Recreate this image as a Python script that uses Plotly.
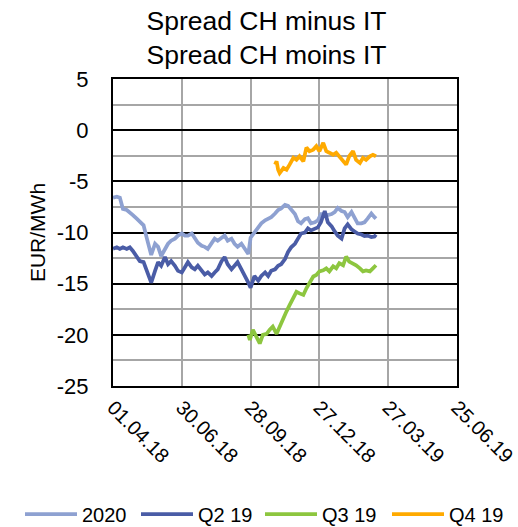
import plotly.graph_objects as go

# ---- data ----
blue_dates = [
    "2018-04-01", "2018-04-06", "2018-04-10", "2018-04-14", "2018-04-19", "2018-04-23",
    "2018-04-27", "2018-05-02", "2018-05-06", "2018-05-11", "2018-05-15", "2018-05-19",
    "2018-05-21", "2018-05-26", "2018-05-30", "2018-06-03", "2018-06-08", "2018-06-12",
    "2018-06-16", "2018-06-21", "2018-06-25", "2018-06-30", "2018-07-04", "2018-07-08",
    "2018-07-13", "2018-07-17", "2018-07-21", "2018-07-26", "2018-07-30", "2018-08-03",
    "2018-08-08", "2018-08-12", "2018-08-16", "2018-08-21", "2018-08-25", "2018-08-29",
    "2018-09-03", "2018-09-07", "2018-09-11", "2018-09-16", "2018-09-20", "2018-09-25",
    "2018-09-28", "2018-10-03", "2018-10-08", "2018-10-12", "2018-10-17", "2018-10-21",
    "2018-10-25", "2018-10-30", "2018-11-03", "2018-11-07", "2018-11-12", "2018-11-16",
    "2018-11-20", "2018-11-25", "2018-11-29", "2018-12-03", "2018-12-08", "2018-12-12",
    "2018-12-16", "2018-12-21", "2018-12-25", "2018-12-29", "2019-01-03", "2019-01-07",
    "2019-01-12", "2019-01-16", "2019-01-20", "2019-01-25", "2019-01-29", "2019-02-02",
    "2019-02-07", "2019-02-11", "2019-02-15", "2019-02-20", "2019-02-24", "2019-02-28",
    "2019-03-05", "2019-03-09", "2019-03-11",
]
values_2020 = [
    -6.6, -6.5, -6.6, -7.7, -7.8, -8.0,
    -8.3, -8.65, -9.0, -9.3, -10.5, -11.5,
    -12.2, -11.1, -11.4, -12.3, -11.6, -11.1,
    -10.8, -10.6, -10.3, -10.1, -10.3, -10.3,
    -10.1, -10.6, -11.0, -11.3, -11.4, -11.6,
    -11.0, -10.6, -10.8, -10.5, -10.3, -10.8,
    -10.6, -11.1, -11.4, -11.1, -11.6, -12.1,
    -10.5, -10.0, -9.6, -9.1, -8.8, -8.65,
    -8.5, -8.15, -7.8, -7.65, -7.3, -7.4,
    -7.7, -8.2, -8.9, -9.1, -8.7, -8.6,
    -9.1, -9.0, -8.8, -8.2, -8.2, -8.3,
    -8.2, -8.0, -7.6, -7.9, -8.0, -8.5,
    -8.0, -8.65, -9.1, -9.1, -9.0, -8.65,
    -8.15, -8.5, -8.65,
]
values_q2_19 = [
    -11.6, -11.45, -11.6, -11.45, -11.6, -11.45,
    -11.8, -12.3, -12.8, -12.9, -13.75, -14.4,
    -14.9, -13.75, -12.9, -13.25, -12.4, -13.1,
    -12.8, -13.25, -13.75, -13.9, -13.4, -12.9,
    -13.4, -13.6, -13.25, -13.75, -14.1, -13.9,
    -14.25, -13.9, -13.6, -12.8, -12.4, -13.1,
    -13.6, -13.25, -12.9, -13.6, -14.1, -14.9,
    -15.4, -14.25, -14.7, -14.25, -13.9, -14.25,
    -13.75, -13.6, -13.25, -13.1, -12.6, -11.9,
    -11.45, -11.1, -10.6, -10.1, -10.0, -9.6,
    -9.8, -9.6, -9.5, -9.0, -7.9, -9.0,
    -9.4, -9.9, -10.3, -10.6, -9.6, -9.2,
    -9.7, -9.9, -10.1, -10.2, -10.35, -10.3,
    -10.45, -10.4, -10.2,
]

q3_dates = [
    "2018-09-25", "2018-09-27", "2018-10-01", "2018-10-06", "2018-10-10", "2018-10-14",
    "2018-10-19", "2018-10-23", "2018-10-27", "2018-11-01", "2018-11-05", "2018-11-10",
    "2018-11-14", "2018-11-18", "2018-11-23", "2018-11-27", "2018-12-01", "2018-12-06",
    "2018-12-10", "2018-12-14", "2018-12-19", "2018-12-23", "2018-12-27", "2019-01-01",
    "2019-01-05", "2019-01-09", "2019-01-14", "2019-01-18", "2019-01-22", "2019-01-27",
    "2019-01-31", "2019-02-04", "2019-02-09", "2019-02-13", "2019-02-18", "2019-02-22",
    "2019-02-26", "2019-03-03", "2019-03-07", "2019-03-11",
]
values_q3_19 = [
    -20.0, -20.5, -19.5, -20.2, -20.85, -20.0,
    -19.9, -19.5, -19.2, -19.9, -19.2, -18.2,
    -17.7, -17.1, -16.3, -15.8, -15.95, -16.1,
    -15.45, -15.0, -14.3, -14.15, -13.8, -13.7,
    -13.5, -13.8, -13.3, -13.5, -13.0, -13.2,
    -12.35, -12.85, -13.0, -13.2, -13.5, -13.8,
    -13.7, -13.8, -13.5, -13.2,
]

q4_dates = [
    "2018-10-30", "2018-11-01", "2018-11-03", "2018-11-05", "2018-11-10", "2018-11-14",
    "2018-11-18", "2018-11-23", "2018-11-27", "2018-12-01", "2018-12-06", "2018-12-10",
    "2018-12-14", "2018-12-19", "2018-12-23", "2018-12-27", "2019-01-01", "2019-01-05",
    "2019-01-09", "2019-01-14", "2019-01-18", "2019-01-22", "2019-01-27", "2019-01-31",
    "2019-02-04", "2019-02-09", "2019-02-13", "2019-02-18", "2019-02-22", "2019-02-26",
    "2019-03-03", "2019-03-07", "2019-03-11",
]
values_q4_19 = [
    -3.37, -3.04, -3.86, -4.2, -3.7, -3.86,
    -3.37, -2.7, -2.9, -2.55, -3.04, -1.7,
    -2.06, -1.9, -1.57, -2.06, -1.24, -2.06,
    -2.2, -2.4, -2.2, -2.55, -2.9, -3.37,
    -2.55, -2.06, -2.9, -3.2, -2.7, -2.9,
    -2.55, -2.4, -2.55,
]

series_names = ["2020", "Q2 19", "Q3 19", "Q4 19"]
series_colors = ["#8EA1D1", "#4A5CA6", "#8DC63F", "#FFAA00"]
legend_ids = ["legend", "legend2", "legend3", "legend4"]
legend_x_px = [20, 136, 260, 387]   # left edge of each legend entry

x_range = ["2018-04-01", "2019-06-25"]
y_range = [-25, 5]
y_tickvals = [5, 0, -5, -10, -15, -20, -25]
y_ticktext = [str(v) for v in y_tickvals]
DAY_MS = 86400000

W, H = 518, 527
FONT = "Liberation Sans, Arial, sans-serif"
GRID_GREY = "#A6A6A6"

fig = go.Figure()
for name, dates, vals, col, lg in zip(
    series_names,
    [blue_dates, blue_dates, q3_dates, q4_dates],
    [values_2020, values_q2_19, values_q3_19, values_q4_19],
    series_colors, legend_ids,
):
    fig.add_trace(go.Scatter(x=dates, y=vals, name=name, mode="lines", legend=lg,
                             line=dict(color=col, width=3.75)))

legend_layout = {}
for lg, px in zip(legend_ids, legend_x_px):
    legend_layout[lg] = dict(orientation="h", x=px / W, xanchor="left", xref="container",
                             y=13 / H, yanchor="middle", yref="container",
                             font=dict(size=20, family=FONT), itemwidth=52,
                             bgcolor="rgba(0,0,0,0)")

fig.update_layout(
    width=W, height=H,
    margin=dict(l=113, r=61, t=79, b=141),
    paper_bgcolor="white", plot_bgcolor="white",
    font=dict(family=FONT, color="black"),
    title=dict(text="Spread CH minus IT<br>Spread CH moins IT",
               x=266.5 / W, xanchor="center", xref="container",
               y=0.943, yanchor="top", yref="container",
               font=dict(size=26.5, family=FONT, color="black")),
    showlegend=True,
    **legend_layout,
    xaxis=dict(type="date", range=x_range, tick0=x_range[0], dtick=90 * DAY_MS,
               tickformat="%d.%m.%y", tickangle=45, ticks="",
               tickfont=dict(size=20, family=FONT),
               showgrid=True, gridcolor=GRID_GREY, gridwidth=2,
               showline=True, linecolor="black", linewidth=2, mirror=True,
               zeroline=False, ticklabelstandoff=0, automargin=False),
    xaxis2=dict(type="date", range=x_range, tick0=x_range[0], dtick=30 * DAY_MS,
                overlaying="x", anchor="free", position=25 / 30, side="bottom",
                ticks="outside", ticklen=5, tickwidth=2, tickcolor="black",
                showticklabels=False, showgrid=False, showline=False, zeroline=False,
                automargin=False),
    xaxis3=dict(type="date", range=x_range, tick0=x_range[0], dtick=30 * DAY_MS,
                overlaying="x", anchor="free", position=25 / 30, side="bottom",
                ticks="inside", ticklen=5, tickwidth=2, tickcolor="black",
                showticklabels=False, showgrid=False, showline=False, zeroline=False,
                automargin=False),
    yaxis=dict(range=y_range, tickmode="array", tickvals=y_tickvals, ticktext=y_ticktext,
               ticks="", tickfont=dict(size=22, family=FONT),
               showgrid=True, gridcolor="black", gridwidth=2,
               minor=dict(dtick=2.5, tick0=0, showgrid=True, gridcolor=GRID_GREY, gridwidth=2),
               showline=True, linecolor="black", linewidth=2, mirror=True,
               zeroline=False, ticklabelstandoff=18, automargin=True,
               title=dict(text="EUR/MWh", font=dict(size=21, family=FONT), standoff=5)),
)

fig.write_html("out.html", config={"displayModeBar": False},
               post_script="document.body.style.margin='0';")
